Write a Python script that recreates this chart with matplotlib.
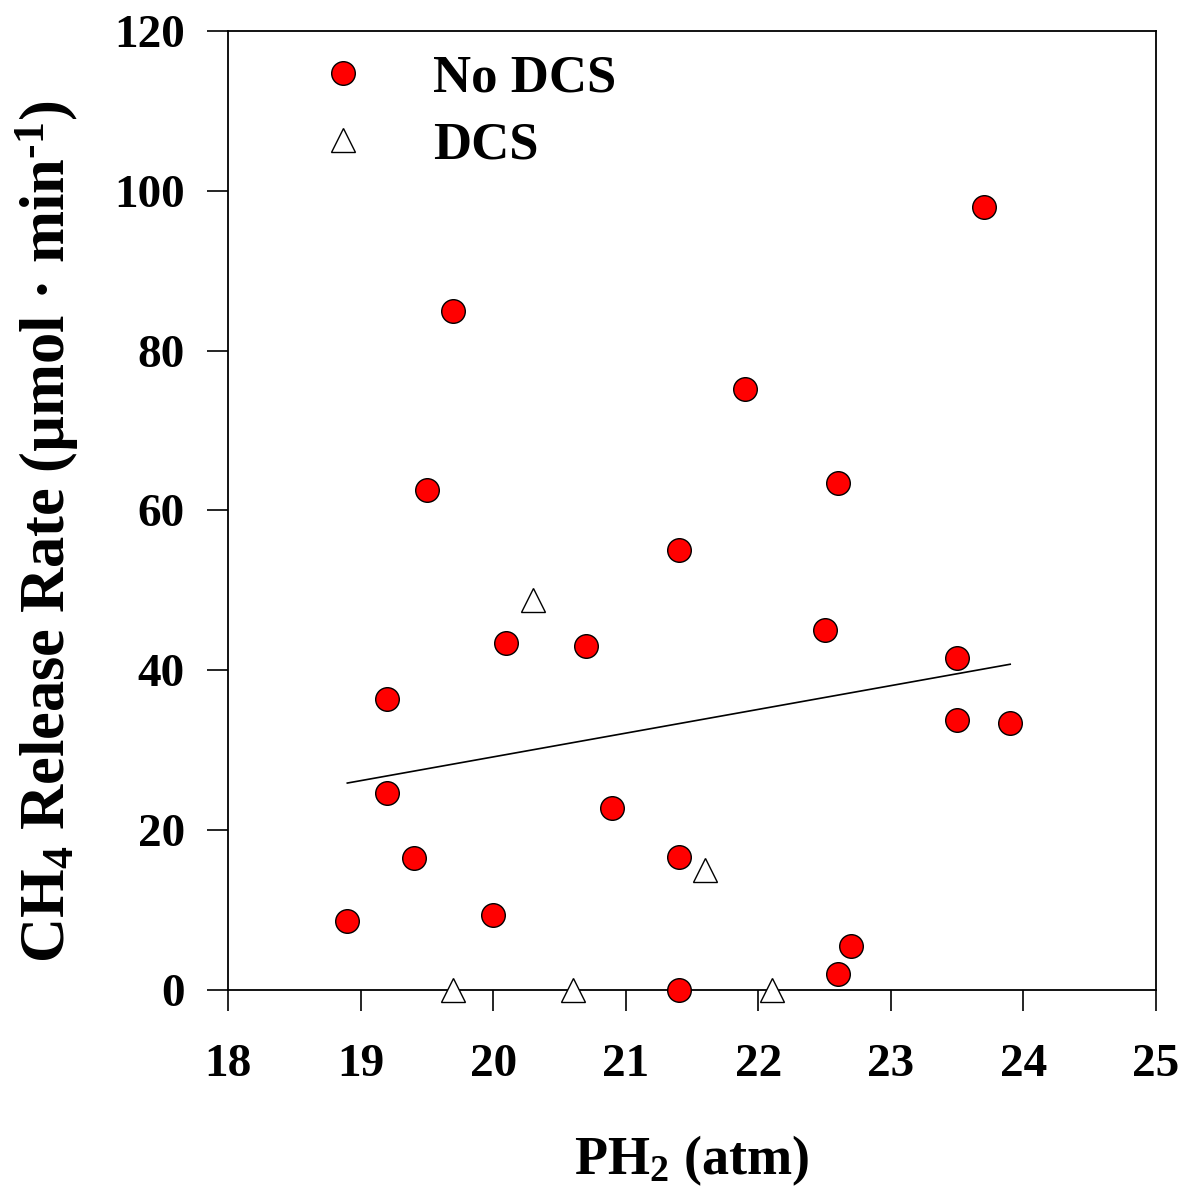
import numpy as np
import matplotlib
matplotlib.use("Agg")
import matplotlib.pyplot as plt

# Data
no_dcs_x = [18.9, 19.2, 19.2, 19.4, 19.5, 19.7, 20.0, 20.1, 20.7, 20.9, 21.4, 21.4,
            21.4, 21.9, 22.6, 22.5, 22.6, 22.7, 23.5, 23.5, 23.7, 23.9]
no_dcs_y = [8.6, 36.4, 24.6, 16.5, 62.6, 85.0, 9.4, 43.4, 43.1, 22.75, 55.1, 16.6,
            0.0, 75.25, 63.4, 45.0, 2.0, 5.5, 41.5, 33.75, 98.0, 33.4]
dcs_x = [19.7, 20.6, 22.1, 20.3, 21.6]
dcs_y = [0.0, 0.0, 0.0, 48.75, 15.0]
x_ticks = [18, 19, 20, 21, 22, 23, 24, 25]
y_ticks = [0, 20, 40, 60, 80, 100, 120]

plt.rcParams['font.family'] = ['Liberation Serif', 'DejaVu Serif']
plt.rcParams['font.weight'] = 'bold'
plt.rcParams['mathtext.fontset'] = 'custom'
plt.rcParams['mathtext.rm'] = 'Liberation Serif:bold'
plt.rcParams['mathtext.it'] = 'Liberation Serif:bold'
plt.rcParams['mathtext.bf'] = 'Liberation Serif:bold'
plt.rcParams['mathtext.default'] = 'rm'

fig = plt.figure(figsize=(11.86, 12.01), dpi=100)
ax = fig.add_axes([228/1186, 1 - 990/1201, (1156-228)/1186, (990-31)/1201])

ax.plot(no_dcs_x, no_dcs_y, 'o', ms=17, mfc='#ff0000', mec='black', mew=1.0,
        ls='none', label='No DCS', zorder=3, clip_on=False)
ax.plot(dcs_x, dcs_y, '^', ms=17, mfc='white', mec='black', mew=1.0,
        ls='none', label='DCS', zorder=3, clip_on=False)

# Regression line over all points
all_x = np.array(no_dcs_x + dcs_x)
all_y = np.array(no_dcs_y + dcs_y)
slope, intercept = np.polyfit(all_x, all_y, 1)
xx = np.array([all_x.min(), all_x.max()])
ax.plot(xx, slope * xx + intercept, color='black', lw=1.2, zorder=2)

ax.set_xlim(18, 25)
ax.set_ylim(0, 120)
ax.set_xticks(x_ticks)
ax.set_yticks(y_ticks)
ax.tick_params(axis='both', direction='out', length=15, width=1.2, labelsize=34)
ax.tick_params(axis='x', pad=24)
ax.tick_params(axis='y', pad=16)
for lab in ax.get_xticklabels() + ax.get_yticklabels():
    lab.set_fontweight('bold')
for s in ax.spines.values():
    s.set_linewidth(1.3)

ax.set_xlabel(r'PH$_2$ (atm)', fontsize=39, fontweight='bold', labelpad=34)
ax.set_ylabel(r'CH$_4$ Release Rate (µmol · min$^{\text{-1}}$)', fontsize=45,
              fontweight='bold', labelpad=24)
ax.yaxis.label.set_y(0.478)

leg = ax.legend(loc='upper left', bbox_to_anchor=(0.0959, 0.976), frameon=False,
                prop={'family': 'Liberation Serif', 'weight': 'bold', 'size': 38},
                handlelength=1.0, handletextpad=1.19, labelspacing=0.36,
                borderpad=0, borderaxespad=0, numpoints=1)

fig.savefig('out.png', dpi=100)
